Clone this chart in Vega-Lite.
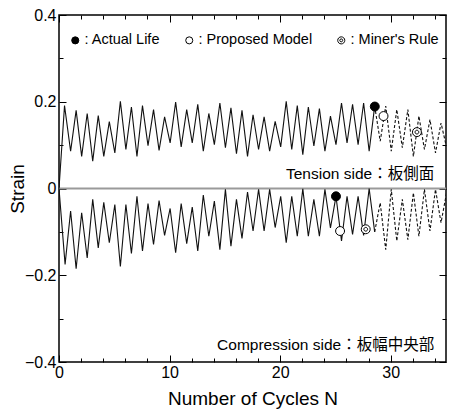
{
  "$schema": "https://vega.github.io/schema/vega-lite/v6.json",
  "width": 387,
  "height": 347,
  "autosize": "none",
  "padding": {"left": 59, "top": 15, "right": 3, "bottom": 51},
  "background": "white",
  "config": {
    "font": "Liberation Sans, Noto Sans CJK JP",
    "view": {"stroke": "black", "strokeWidth": 1.5},
    "axis": {"grid": false, "domain": false, "tickColor": "black", "tickWidth": 1, "labelColor": "black", "titleColor": "black", "labelFont": "Liberation Sans", "titleFont": "Liberation Sans", "labelFontSize": 16, "titleFontSize": 19, "titleFontWeight": "normal", "labelOverlap": false, "labelFlush": false, "labelBound": false}
  },
  "datasets": {
    "strain": [
      {"side": "tension", "part": "solid", "N": 0, "strain": 0},
      {"side": "tension", "part": "solid", "N": 0.5, "strain": 0.191},
      {"side": "tension", "part": "solid", "N": 1.05, "strain": 0.086},
      {"side": "tension", "part": "solid", "N": 1.55, "strain": 0.180},
      {"side": "tension", "part": "solid", "N": 2.05, "strain": 0.074},
      {"side": "tension", "part": "solid", "N": 2.55, "strain": 0.173},
      {"side": "tension", "part": "solid", "N": 3.05, "strain": 0.063},
      {"side": "tension", "part": "solid", "N": 3.55, "strain": 0.168},
      {"side": "tension", "part": "solid", "N": 4.05, "strain": 0.074},
      {"side": "tension", "part": "solid", "N": 4.55, "strain": 0.154},
      {"side": "tension", "part": "solid", "N": 5.05, "strain": 0.082},
      {"side": "tension", "part": "solid", "N": 5.55, "strain": 0.201},
      {"side": "tension", "part": "solid", "N": 6.05, "strain": 0.090},
      {"side": "tension", "part": "solid", "N": 6.55, "strain": 0.188},
      {"side": "tension", "part": "solid", "N": 7.05, "strain": 0.074},
      {"side": "tension", "part": "solid", "N": 7.55, "strain": 0.191},
      {"side": "tension", "part": "solid", "N": 8.05, "strain": 0.099},
      {"side": "tension", "part": "solid", "N": 8.55, "strain": 0.182},
      {"side": "tension", "part": "solid", "N": 9.05, "strain": 0.088},
      {"side": "tension", "part": "solid", "N": 9.55, "strain": 0.165},
      {"side": "tension", "part": "solid", "N": 10.05, "strain": 0.105},
      {"side": "tension", "part": "solid", "N": 10.55, "strain": 0.199},
      {"side": "tension", "part": "solid", "N": 11.05, "strain": 0.096},
      {"side": "tension", "part": "solid", "N": 11.55, "strain": 0.182},
      {"side": "tension", "part": "solid", "N": 12.05, "strain": 0.105},
      {"side": "tension", "part": "solid", "N": 12.55, "strain": 0.194},
      {"side": "tension", "part": "solid", "N": 13.05, "strain": 0.086},
      {"side": "tension", "part": "solid", "N": 13.55, "strain": 0.173},
      {"side": "tension", "part": "solid", "N": 14.05, "strain": 0.101},
      {"side": "tension", "part": "solid", "N": 14.55, "strain": 0.197},
      {"side": "tension", "part": "solid", "N": 15.05, "strain": 0.094},
      {"side": "tension", "part": "solid", "N": 15.55, "strain": 0.186},
      {"side": "tension", "part": "solid", "N": 16.05, "strain": 0.080},
      {"side": "tension", "part": "solid", "N": 16.55, "strain": 0.180},
      {"side": "tension", "part": "solid", "N": 17.05, "strain": 0.074},
      {"side": "tension", "part": "solid", "N": 17.55, "strain": 0.170},
      {"side": "tension", "part": "solid", "N": 18.05, "strain": 0.090},
      {"side": "tension", "part": "solid", "N": 18.55, "strain": 0.165},
      {"side": "tension", "part": "solid", "N": 19.05, "strain": 0.086},
      {"side": "tension", "part": "solid", "N": 19.55, "strain": 0.155},
      {"side": "tension", "part": "solid", "N": 20.05, "strain": 0.096},
      {"side": "tension", "part": "solid", "N": 20.55, "strain": 0.201},
      {"side": "tension", "part": "solid", "N": 21.05, "strain": 0.090},
      {"side": "tension", "part": "solid", "N": 21.55, "strain": 0.191},
      {"side": "tension", "part": "solid", "N": 22.05, "strain": 0.078},
      {"side": "tension", "part": "solid", "N": 22.55, "strain": 0.188},
      {"side": "tension", "part": "solid", "N": 23.05, "strain": 0.098},
      {"side": "tension", "part": "solid", "N": 23.55, "strain": 0.184},
      {"side": "tension", "part": "solid", "N": 24.05, "strain": 0.086},
      {"side": "tension", "part": "solid", "N": 24.55, "strain": 0.167},
      {"side": "tension", "part": "solid", "N": 25.05, "strain": 0.101},
      {"side": "tension", "part": "solid", "N": 25.55, "strain": 0.197},
      {"side": "tension", "part": "solid", "N": 26.05, "strain": 0.105},
      {"side": "tension", "part": "solid", "N": 26.55, "strain": 0.194},
      {"side": "tension", "part": "solid", "N": 27.05, "strain": 0.101},
      {"side": "tension", "part": "solid", "N": 27.55, "strain": 0.197},
      {"side": "tension", "part": "solid", "N": 28.05, "strain": 0.086},
      {"side": "tension", "part": "solid", "N": 28.55, "strain": 0.190},
      {"side": "tension", "part": "dashed", "N": 28.55, "strain": 0.190},
      {"side": "tension", "part": "dashed", "N": 29.05, "strain": 0.109},
      {"side": "tension", "part": "dashed", "N": 29.55, "strain": 0.190},
      {"side": "tension", "part": "dashed", "N": 30.05, "strain": 0.086},
      {"side": "tension", "part": "dashed", "N": 30.55, "strain": 0.182},
      {"side": "tension", "part": "dashed", "N": 31.05, "strain": 0.094},
      {"side": "tension", "part": "dashed", "N": 31.55, "strain": 0.182},
      {"side": "tension", "part": "dashed", "N": 32.05, "strain": 0.074},
      {"side": "tension", "part": "dashed", "N": 32.55, "strain": 0.167},
      {"side": "tension", "part": "dashed", "N": 33.05, "strain": 0.090},
      {"side": "tension", "part": "dashed", "N": 33.55, "strain": 0.159},
      {"side": "tension", "part": "dashed", "N": 34.05, "strain": 0.082},
      {"side": "tension", "part": "dashed", "N": 34.55, "strain": 0.151},
      {"side": "tension", "part": "dashed", "N": 35.05, "strain": 0.095},
      {"side": "compression", "part": "solid", "N": 0, "strain": 0},
      {"side": "compression", "part": "solid", "N": 0.55, "strain": -0.175},
      {"side": "compression", "part": "solid", "N": 1.05, "strain": -0.052},
      {"side": "compression", "part": "solid", "N": 1.55, "strain": -0.185},
      {"side": "compression", "part": "solid", "N": 2.05, "strain": -0.056},
      {"side": "compression", "part": "solid", "N": 2.55, "strain": -0.160},
      {"side": "compression", "part": "solid", "N": 3.05, "strain": -0.025},
      {"side": "compression", "part": "solid", "N": 3.55, "strain": -0.137},
      {"side": "compression", "part": "solid", "N": 4.05, "strain": -0.032},
      {"side": "compression", "part": "solid", "N": 4.55, "strain": -0.125},
      {"side": "compression", "part": "solid", "N": 5.05, "strain": -0.037},
      {"side": "compression", "part": "solid", "N": 5.55, "strain": -0.180},
      {"side": "compression", "part": "solid", "N": 6.05, "strain": -0.037},
      {"side": "compression", "part": "solid", "N": 6.55, "strain": -0.150},
      {"side": "compression", "part": "solid", "N": 7.05, "strain": -0.018},
      {"side": "compression", "part": "solid", "N": 7.55, "strain": -0.144},
      {"side": "compression", "part": "solid", "N": 8.05, "strain": -0.035},
      {"side": "compression", "part": "solid", "N": 8.55, "strain": -0.129},
      {"side": "compression", "part": "solid", "N": 9.05, "strain": -0.028},
      {"side": "compression", "part": "solid", "N": 9.55, "strain": -0.108},
      {"side": "compression", "part": "solid", "N": 10.05, "strain": -0.046},
      {"side": "compression", "part": "solid", "N": 10.55, "strain": -0.148},
      {"side": "compression", "part": "solid", "N": 11.05, "strain": -0.035},
      {"side": "compression", "part": "solid", "N": 11.55, "strain": -0.127},
      {"side": "compression", "part": "solid", "N": 12.05, "strain": -0.043},
      {"side": "compression", "part": "solid", "N": 12.55, "strain": -0.144},
      {"side": "compression", "part": "solid", "N": 13.05, "strain": -0.015},
      {"side": "compression", "part": "solid", "N": 13.55, "strain": -0.110},
      {"side": "compression", "part": "solid", "N": 14.05, "strain": -0.029},
      {"side": "compression", "part": "solid", "N": 14.55, "strain": -0.141},
      {"side": "compression", "part": "solid", "N": 15.05, "strain": -0.002},
      {"side": "compression", "part": "solid", "N": 15.55, "strain": -0.133},
      {"side": "compression", "part": "solid", "N": 16.05, "strain": -0.025},
      {"side": "compression", "part": "solid", "N": 16.55, "strain": -0.115},
      {"side": "compression", "part": "solid", "N": 17.05, "strain": -0.008},
      {"side": "compression", "part": "solid", "N": 17.55, "strain": -0.098},
      {"side": "compression", "part": "solid", "N": 18.05, "strain": -0.002},
      {"side": "compression", "part": "solid", "N": 18.55, "strain": -0.098},
      {"side": "compression", "part": "solid", "N": 19.05, "strain": -0.002},
      {"side": "compression", "part": "solid", "N": 19.55, "strain": -0.090},
      {"side": "compression", "part": "solid", "N": 20.05, "strain": -0.018},
      {"side": "compression", "part": "solid", "N": 20.55, "strain": -0.125},
      {"side": "compression", "part": "solid", "N": 21.05, "strain": -0.018},
      {"side": "compression", "part": "solid", "N": 21.55, "strain": -0.110},
      {"side": "compression", "part": "solid", "N": 22.05, "strain": -0.001},
      {"side": "compression", "part": "solid", "N": 22.55, "strain": -0.110},
      {"side": "compression", "part": "solid", "N": 23.05, "strain": -0.025},
      {"side": "compression", "part": "solid", "N": 23.55, "strain": -0.110},
      {"side": "compression", "part": "solid", "N": 24.05, "strain": -0.002},
      {"side": "compression", "part": "solid", "N": 24.55, "strain": -0.091},
      {"side": "compression", "part": "solid", "N": 25.05, "strain": -0.018},
      {"side": "compression", "part": "solid", "N": 25.55, "strain": -0.121},
      {"side": "compression", "part": "solid", "N": 26.05, "strain": -0.018},
      {"side": "compression", "part": "solid", "N": 26.55, "strain": -0.106},
      {"side": "compression", "part": "solid", "N": 27.05, "strain": -0.018},
      {"side": "compression", "part": "solid", "N": 27.55, "strain": -0.108},
      {"side": "compression", "part": "solid", "N": 28.05, "strain": 0.0},
      {"side": "compression", "part": "solid", "N": 28.55, "strain": -0.100},
      {"side": "compression", "part": "dashed", "N": 28.55, "strain": -0.100},
      {"side": "compression", "part": "dashed", "N": 29.05, "strain": -0.033},
      {"side": "compression", "part": "dashed", "N": 29.55, "strain": -0.141},
      {"side": "compression", "part": "dashed", "N": 30.05, "strain": -0.002},
      {"side": "compression", "part": "dashed", "N": 30.55, "strain": -0.121},
      {"side": "compression", "part": "dashed", "N": 31.05, "strain": -0.025},
      {"side": "compression", "part": "dashed", "N": 31.55, "strain": -0.118},
      {"side": "compression", "part": "dashed", "N": 32.05, "strain": -0.010},
      {"side": "compression", "part": "dashed", "N": 32.55, "strain": -0.110},
      {"side": "compression", "part": "dashed", "N": 33.05, "strain": -0.002},
      {"side": "compression", "part": "dashed", "N": 33.55, "strain": -0.098},
      {"side": "compression", "part": "dashed", "N": 34.05, "strain": -0.002},
      {"side": "compression", "part": "dashed", "N": 34.55, "strain": -0.079},
      {"side": "compression", "part": "dashed", "N": 35.05, "strain": -0.010}
    ],
    "markers": [
      {"type": "Actual Life", "N": 28.56, "strain": 0.189},
      {"type": "Actual Life", "N": 25.05, "strain": -0.018},
      {"type": "Proposed Model", "N": 29.35, "strain": 0.167},
      {"type": "Proposed Model", "N": 25.42, "strain": -0.098},
      {"type": "Miner's Rule", "N": 32.37, "strain": 0.130},
      {"type": "Miner's Rule", "N": 27.74, "strain": -0.094}
    ],
    "notes": [
      {"N": 33.93, "strain": 0.023, "text": "Tension side：板側面"},
      {"N": 33.93, "strain": -0.373, "text": "Compression side：板幅中央部"}
    ],
    "zero": [{"strain": 0}]
  },
  "resolve": {"axis": {"x": "independent", "y": "independent"}},
  "layer": [
    {
      "data": {"name": "zero"},
      "mark": {"type": "rule", "color": "#9a9a9a", "strokeWidth": 2},
      "encoding": {
        "y": {"field": "strain", "type": "quantitative", "scale": {"domain": [-0.4, 0.4], "nice": false, "zero": false}, "axis": null}
      }
    },
    {
      "data": {"name": "strain"},
      "transform": [{"filter": "datum.part === 'solid'"}],
      "mark": {"type": "line", "color": "#111", "strokeWidth": 1.1, "clip": true},
      "encoding": {
        "x": {"field": "N", "type": "quantitative", "scale": {"domain": [0, 35], "nice": false, "zero": false},
          "axis": {"orient": "bottom", "values": [0,2,4,6,8,10,12,14,16,18,20,22,24,26,28,30,32,34],
            "labelExpr": "datum.value % 10 === 0 ? datum.label : ''",
            "tickSize": {"condition": {"test": "datum.value % 10 === 0", "value": -7}, "value": -4},
            "labelPadding": 9, "title": "Number of Cycles N", "titlePadding": 6}},
        "y": {"field": "strain", "type": "quantitative", "scale": {"domain": [-0.4, 0.4], "nice": false, "zero": false},
          "axis": {"orient": "left", "values": [-0.4,-0.3,-0.2,-0.1,0,0.1,0.2,0.3,0.4], "format": ".1~f",
            "labelExpr": "abs(round(datum.value*10)) % 2 == 0 ? datum.label : ''",
            "tickSize": {"condition": {"test": "abs(round(datum.value*10)) % 2 == 0", "value": -7}, "value": -4},
            "labelPadding": 10, "title": "Strain", "titlePadding": -3}},
        "detail": {"field": "side"}
      }
    },
    {
      "data": {"name": "strain"},
      "transform": [{"filter": "datum.part === 'dashed'"}],
      "mark": {"type": "line", "color": "#111", "strokeWidth": 1.1, "strokeDash": [3, 2], "clip": true},
      "encoding": {
        "x": {"field": "N", "type": "quantitative",
          "axis": {"orient": "top", "values": [0,2,4,6,8,10,12,14,16,18,20,22,24,26,28,30,32,34], "labels": false, "title": null,
            "tickSize": {"condition": {"test": "datum.value % 10 === 0", "value": -7}, "value": -4}}},
        "y": {"field": "strain", "type": "quantitative",
          "axis": {"orient": "right", "values": [-0.4,-0.3,-0.2,-0.1,0,0.1,0.2,0.3,0.4], "labels": false, "title": null,
            "tickSize": {"condition": {"test": "abs(round(datum.value*10)) % 2 == 0", "value": -7}, "value": -4}}},
        "detail": {"field": "side"}
      }
    },
    {
      "data": {"name": "markers"},
      "mark": {"type": "point", "strokeWidth": 1, "opacity": 1, "size": 80},
      "encoding": {
        "x": {"field": "N", "type": "quantitative", "axis": null},
        "y": {"field": "strain", "type": "quantitative", "axis": null},
        "shape": {"field": "type", "type": "nominal",
          "scale": {"domain": ["Actual Life", "Proposed Model", "Miner's Rule"], "range": ["circle", "circle", "M -1 0 A 1 1 0 1 0 1 0 A 1 1 0 1 0 -1 0 Z M -0.42 0 A 0.42 0.42 0 1 0 0.42 0 A 0.42 0.42 0 1 0 -0.42 0 Z"]},
          "legend": {"orient": "none", "legendX": 9, "legendY": 18, "direction": "horizontal", "title": null,
            "labelExpr": "': ' + datum.label", "labelFontSize": 14.5, "labelFont": "Liberation Sans", "labelColor": "black",
            "symbolSize": 50, "symbolStrokeWidth": 1, "symbolOpacity": 1,
            "columnPadding": 21, "labelOffset": 2}},
        "fill": {"field": "type", "type": "nominal",
          "scale": {"domain": ["Actual Life", "Proposed Model", "Miner's Rule"], "range": ["black", "white", "white"]},
          "legend": {"orient": "none", "legendX": 9, "legendY": 18, "direction": "horizontal", "title": null,
            "labelExpr": "': ' + datum.label", "labelFontSize": 14.5, "labelFont": "Liberation Sans", "labelColor": "black",
            "symbolSize": 50, "symbolStrokeWidth": 1, "symbolOpacity": 1,
            "columnPadding": 21, "labelOffset": 2}},
        "stroke": {"field": "type", "type": "nominal",
          "scale": {"domain": ["Actual Life", "Proposed Model", "Miner's Rule"], "range": ["black", "black", "black"]},
          "legend": {"orient": "none", "legendX": 9, "legendY": 18, "direction": "horizontal", "title": null,
            "labelExpr": "': ' + datum.label", "labelFontSize": 14.5, "labelFont": "Liberation Sans", "labelColor": "black",
            "symbolSize": 50, "symbolStrokeWidth": 1, "symbolOpacity": 1,
            "columnPadding": 21, "labelOffset": 2}}
      }
    },
    {
      "data": {"name": "notes"},
      "mark": {"type": "text", "align": "right", "baseline": "alphabetic", "fontSize": 15.5, "font": "Liberation Sans, Noto Sans CJK JP", "color": "black"},
      "encoding": {
        "x": {"field": "N", "type": "quantitative", "axis": null},
        "y": {"field": "strain", "type": "quantitative", "axis": null},
        "text": {"field": "text"}
      }
    }
  ]
}
